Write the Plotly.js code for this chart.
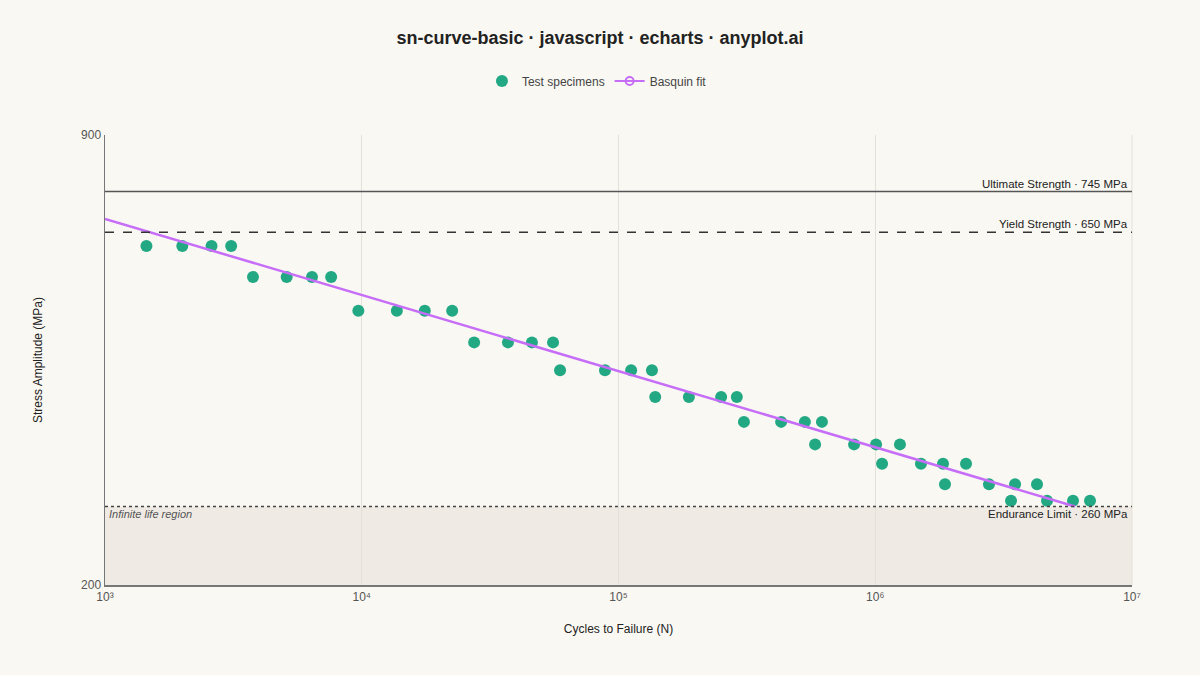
<!DOCTYPE html>
<html>
<head>
<meta charset="utf-8">
<script src="https://cdn.plot.ly/plotly-3.0.1.min.js"></script>
<style>html,body{margin:0;padding:0;background:#faf8f2;}#chart{width:1200px;height:675px;}</style>
</head>
<body>
<div id="chart"></div>
<script>
// Test specimens: cycles to failure and stress amplitude (MPa)
const cycles = [1450, 2000, 2600, 3100, 3770, 5100, 6400, 7600,
  9700, 13700, 17600, 22500, 27400, 37100, 46000, 55600,
  59200, 88600, 112000, 135000, 139000, 188000, 251000, 289000,
  308000, 430000, 532000, 620000, 583000, 827000, 1007000, 1248000,
  1063000, 1507000, 1836000, 2257000, 1869000, 2773000, 3503000, 4266000,
  3379000, 4667000, 5892000, 6862000];
const stress = [621, 621, 621, 621, 560, 560, 560, 560,
  500, 500, 500, 500, 450, 450, 450, 450,
  410, 410, 410, 410, 375, 375, 375, 375,
  345, 345, 345, 345, 320, 320, 320, 320,
  300, 300, 300, 300, 280, 280, 280, 280,
  265, 265, 265, 265];

// Basquin fit end points (straight line in log-log space)
const fitCycles = [1000, 6000000];
const fitStress = [680, 260];

// Reference levels (MPa)
const ultimateStrength = 745;
const yieldStrength = 650;
const enduranceLimit = 260;

const xTickVals = [1e3, 1e4, 1e5, 1e6, 1e7];
const xTickText = ['10³', '10⁴', '10⁵', '10⁶', '10⁷'];
const yTickVals = [200, 900];
const yTickText = ['200', '900'];

const font = 'Liberation Sans, Arial, sans-serif';

const traces = [
  {
    x: cycles, y: stress, type: 'scatter', mode: 'markers',
    name: 'Test specimens',
    marker: {color: '#23a884', size: 12, line: {width: 0}},
    cliponaxis: false
  },
  {
    x: fitCycles, y: fitStress, type: 'scatter', mode: 'lines',
    name: 'Basquin fit', showlegend: false,
    line: {color: '#c66ef7', width: 2.5}
  },
  {
    x: [null], y: [null], type: 'scatter', mode: 'lines+markers',
    name: 'Basquin fit',
    line: {color: '#c66ef7', width: 2},
    marker: {symbol: 'circle-open', size: 8, color: '#c66ef7', line: {width: 2}}
  }
];

const layout = {
  width: 1200, height: 675,
  paper_bgcolor: '#faf8f2', plot_bgcolor: '#faf8f2',
  margin: {l: 105, r: 68, t: 135, b: 90},
  font: {family: font, color: '#333'},
  title: {
    text: '<b>sn-curve-basic · javascript · echarts · anyplot.ai</b>',
    font: {size: 18, color: '#222', family: font},
    x: 0.5, xanchor: 'center', y: 1 - 38 / 675, yanchor: 'middle', yref: 'container'
  },
  showlegend: true,
  legend: {
    orientation: 'h', x: 0.479, xanchor: 'center', y: 1.12, yanchor: 'middle',
    font: {size: 12, color: '#444'}, bgcolor: 'rgba(0,0,0,0)',
    itemwidth: 30, tracegroupgap: 0
  },
  xaxis: {
    type: 'log', range: [3, 7],
    tickvals: xTickVals, ticktext: xTickText,
    tickfont: {size: 12, color: '#555'},
    showgrid: true, gridcolor: '#e4e1da', gridwidth: 1,
    showline: true, linecolor: '#777', linewidth: 1.5,
    ticks: '', zeroline: false,
    title: {text: 'Cycles to Failure (N)', font: {size: 12, color: '#222'}, standoff: 21}
  },
  yaxis: {
    type: 'log', range: [Math.log10(200), Math.log10(900)],
    tickvals: yTickVals, ticktext: yTickText,
    tickfont: {size: 12, color: '#555'},
    showgrid: true, gridcolor: '#e4e1da', gridwidth: 1,
    showline: true, linecolor: '#777', linewidth: 1.5,
    ticks: '', zeroline: false,
    title: {text: 'Stress Amplitude (MPa)', font: {size: 12, color: '#222'}, standoff: 36}
  },
  shapes: [
    {type: 'rect', xref: 'paper', yref: 'y', x0: 0, x1: 1, y0: 200, y1: enduranceLimit,
      fillcolor: '#efebe4', line: {width: 0}, layer: 'below'},
    {type: 'line', xref: 'paper', x0: 1, x1: 1, yref: 'paper', y0: 0, y1: 1,
      line: {color: '#e4e1da', width: 1}, layer: 'below'},
    {type: 'line', xref: 'paper', yref: 'y', x0: 0, x1: 1, y0: ultimateStrength, y1: ultimateStrength,
      line: {color: '#555', width: 1.5}},
    {type: 'line', xref: 'paper', yref: 'y', x0: 0, x1: 1, y0: yieldStrength, y1: yieldStrength,
      line: {color: '#333', width: 1.5, dash: 'dash'}},
    {type: 'line', xref: 'paper', yref: 'y', x0: 0, x1: 1, y0: enduranceLimit, y1: enduranceLimit,
      line: {color: '#444', width: 1.5, dash: 'dot'}}
  ],
  annotations: [
    {xref: 'paper', yref: 'y', x: 1, y: Math.log10(ultimateStrength), xanchor: 'right', yanchor: 'bottom',
      text: 'Ultimate Strength · ' + ultimateStrength + ' MPa', showarrow: false,
      font: {size: 11.5, color: '#222'}, xshift: -2, yshift: 0},
    {xref: 'paper', yref: 'y', x: 1, y: Math.log10(yieldStrength), xanchor: 'right', yanchor: 'bottom',
      text: 'Yield Strength · ' + yieldStrength + ' MPa', showarrow: false,
      font: {size: 11.5, color: '#222'}, xshift: -2, yshift: 0},
    {xref: 'paper', yref: 'y', x: 1, y: Math.log10(enduranceLimit), xanchor: 'right', yanchor: 'top',
      text: 'Endurance Limit · ' + enduranceLimit + ' MPa', showarrow: false,
      font: {size: 11.5, color: '#222'}, xshift: -2, yshift: 1},
    {xref: 'paper', yref: 'y', x: 0, y: Math.log10(enduranceLimit), xanchor: 'left', yanchor: 'top',
      text: '<i>Infinite life region</i>', showarrow: false,
      font: {size: 11, color: '#555'}, xshift: 2, yshift: 1}
  ]
};

Plotly.newPlot('chart', traces, layout, {displayModeBar: false, staticPlot: true});
</script>
</body>
</html>
